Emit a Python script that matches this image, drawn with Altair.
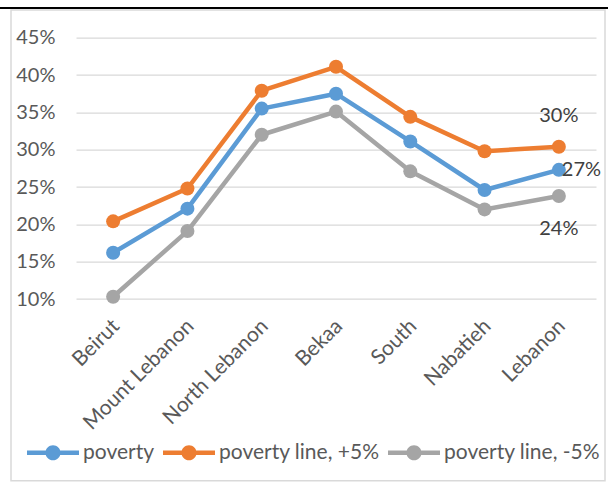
import altair as alt
import pandas as pd

# Poverty rates by region under three poverty-line assumptions
regions = ["Beirut", "Mount Lebanon", "North Lebanon", "Bekaa", "South", "Nabatieh", "Lebanon"]
poverty = [0.162, 0.221, 0.355, 0.375, 0.311, 0.246, 0.273]
poverty_plus5 = [0.204, 0.248, 0.379, 0.411, 0.344, 0.298, 0.304]
poverty_minus5 = [0.103, 0.191, 0.320, 0.351, 0.271, 0.220, 0.238]

series_names = ["poverty", "poverty line, +5%", "poverty line, -5%"]
series_colors = ["#5B9BD5", "#ED7D31", "#A5A5A5"]
y_ticks = [0.10, 0.15, 0.20, 0.25, 0.30, 0.35, 0.40, 0.45]

rows = []
for name, values in zip(series_names, [poverty, poverty_plus5, poverty_minus5]):
    for region, v in zip(regions, values):
        rows.append({"region": region, "series": name, "rate": v})
df = pd.DataFrame(rows)

FONT = "Lato"
LABEL_GRAY = "#595959"

x_enc = alt.X(
    "region:N",
    sort=regions,
    title=None,
    axis=alt.Axis(
        labelAngle=-45,
        labelAlign="right",
        labelBaseline="top",
        labelFont=FONT,
        labelFontSize=21,
        labelColor=LABEL_GRAY,
        labelOffset=-5,
        labelPadding=16,
        labelOverlap=False,
        ticks=False,
        domain=False,
        grid=False,
    ),
)
y_enc = alt.Y(
    "rate:Q",
    title=None,
    scale=alt.Scale(domain=[0.10, 0.45], nice=False, zero=False),
    axis=alt.Axis(
        values=y_ticks,
        format=".0%",
        labelFont=FONT,
        labelFontSize=20,
        labelColor=LABEL_GRAY,
        labelOverlap=False,
        ticks=False,
        domain=False,
        gridColor="#d9d9d9",
        gridWidth=1.2,
        labelPadding=21,
    ),
)
color_scale = alt.Scale(domain=series_names, range=series_colors)

# Legend glyph: a short line with a dot in the middle
legend_glyph = (
    "M-1,-0.087 L1,-0.087 L1,0.087 L-1,0.087 Z "
    "M0.29,0 A0.29,0.29 0 1,1 -0.29,0 A0.29,0.29 0 1,1 0.29,0 Z"
)

base = alt.Chart(df)

lines = base.mark_line(strokeWidth=4.5, strokeCap="round", strokeJoin="round").encode(
    x=x_enc,
    y=y_enc,
    color=alt.Color("series:N", scale=color_scale, legend=None),
)

points = base.mark_circle(size=196, opacity=1).encode(
    x=x_enc,
    y=y_enc,
    color=alt.Color(
        "series:N",
        scale=color_scale,
        sort=series_names,
        title=None,
        legend=alt.Legend(
            orient="none",
            direction="horizontal",
            legendX=-49,
            legendY=389,
            symbolType=legend_glyph,
            symbolSize=2704,
            symbolStrokeWidth=0,
            labelFont=FONT,
            labelFontSize=21,
            labelColor=LABEL_GRAY,
            labelOffset=4,
            labelLimit=400,
            columnPadding=8,
        ),
    ),
)

last = df[df["region"] == regions[-1]]
label_style = dict(font=FONT, fontSize=20, color="#404040")


def end_label(name, **kw):
    return (
        alt.Chart(last[last["series"] == name])
        .mark_text(**label_style, **kw)
        .encode(x=x_enc, y=y_enc, text=alt.Text("rate:Q", format=".0%"))
    )


labels = (
    end_label(series_names[1], dy=-31, align="center")
    + end_label(series_names[0], dx=3, align="left")
    + end_label(series_names[2], dy=33, align="center")
)

deco = alt.Chart(pd.DataFrame({"k": [0]}))
frame = deco.mark_rect(fill="transparent", stroke="#d9d9d9", strokeWidth=1.5).encode(
    x=alt.value(-65), x2=alt.value(529), y=alt.value(-27.7), y2=alt.value(443)
)
top_rule = deco.mark_rule(color="black", strokeWidth=2).encode(
    x=alt.value(-76), x2=alt.value(532), y=alt.value(-29.7)
)

chart = (
    alt.layer(frame, top_rule, lines, points, labels)
    .resolve_legend(color="independent")
    .properties(
        width=520,
        height=261.3,
        autosize=alt.AutoSizeParams(type="none"),
        padding={"left": 76, "top": 37.7, "right": 12, "bottom": 184},
        background="white",
    )
    .configure_view(strokeWidth=0)
)

chart.save("out.html", embed_options={"renderer": "svg", "actions": False})
